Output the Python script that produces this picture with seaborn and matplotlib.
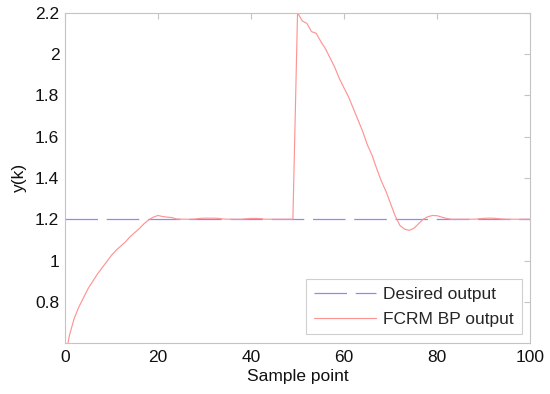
import matplotlib
matplotlib.use('Agg')
import matplotlib.pyplot as plt
import seaborn as sns
import pandas as pd

# Sample points and network output
sample_k = list(range(0, 101))
fcrm_bp_output = [
    0.52, 0.64, 0.72, 0.775, 0.82, 0.865, 0.90, 0.935, 0.965, 0.995,   # 0-9
    1.025, 1.05, 1.07, 1.09, 1.115, 1.135, 1.155, 1.178, 1.197, 1.21,  # 10-19
    1.218, 1.213, 1.21, 1.208, 1.201, 1.2, 1.2, 1.2, 1.201, 1.204,     # 20-29
    1.205, 1.205, 1.205, 1.204, 1.201, 1.2, 1.2, 1.2, 1.2, 1.202,      # 30-39
    1.204, 1.204, 1.203, 1.2, 1.2, 1.2, 1.2, 1.2, 1.2, 1.2,            # 40-49
    2.2, 2.16, 2.148, 2.108, 2.10, 2.06, 2.025, 1.98, 1.935, 1.88,     # 50-59
    1.835, 1.79, 1.735, 1.68, 1.625, 1.56, 1.51, 1.445, 1.385, 1.335,  # 60-69
    1.275, 1.215, 1.17, 1.152, 1.146, 1.156, 1.178, 1.2, 1.212, 1.218, # 70-79
    1.217, 1.21, 1.204, 1.2, 1.2, 1.2, 1.2, 1.2, 1.2, 1.202,           # 80-89
    1.204, 1.205, 1.205, 1.203, 1.201, 1.2, 1.2, 1.2, 1.2, 1.2, 1.2,   # 90-100
]

desired_k = [0, 100]
desired_output = [1.2, 1.2]

x_ticks = [0, 20, 40, 60, 80, 100]
y_ticks = [0.8, 1.0, 1.2, 1.4, 1.6, 1.8, 2.0, 2.2]
y_tick_labels = ['0.8', '1', '1.2', '1.4', '1.6', '1.8', '2', '2.2']

sns.set_style('white')
plt.rcParams['font.family'] = ['Liberation Sans', 'DejaVu Sans']

fig = plt.figure(figsize=(5.5, 3.94), dpi=100)
ax = fig.add_axes([0.118, 0.129, 0.846, 0.839])

desired_df = pd.DataFrame({'k': desired_k, 'y': desired_output})
output_df = pd.DataFrame({'k': sample_k, 'y': fcrm_bp_output})

sns.lineplot(data=desired_df, x='k', y='y', ax=ax, color='#8a8aff', linewidth=0.9,
             linestyle=(0, (26, 7)), label='Desired output')
sns.lineplot(data=output_df, x='k', y='y', ax=ax, color='#ff9494', linewidth=0.85,
             label='FCRM BP output')

ax.set_xlim(0, 100)
ax.set_ylim(0.6, 2.2)
ax.set_xticks(x_ticks)
ax.set_yticks(y_ticks)
ax.set_yticklabels(y_tick_labels)

ax.set_xlabel('Sample point', fontsize=12.5, color='#111111', labelpad=3)
ax.set_ylabel('y(k)', fontsize=12.5, color='#111111', labelpad=6)

for side in ['left', 'right', 'top', 'bottom']:
    ax.spines[side].set_visible(True)
    ax.spines[side].set_color('#c4c4c4')
    ax.spines[side].set_linewidth(0.8)

ax.tick_params(direction='in', length=4, width=0.8, color='#c4c4c4',
               top=True, right=True, labelsize=12.5, labelcolor='#111111', pad=5)
ax.tick_params(axis='y', pad=4)

# legend box sized to match the reference frame
leg = ax.legend(loc='lower right', fontsize=12.5, frameon=True, fancybox=False,
                handlelength=3.6, handletextpad=0.4, borderpad=0.45,
                labelspacing=0.55, borderaxespad=0.5)
leg.get_frame().set_edgecolor('#c4c4c4')
leg.get_frame().set_linewidth(0.8)

fig.savefig('out.png', dpi=100)
